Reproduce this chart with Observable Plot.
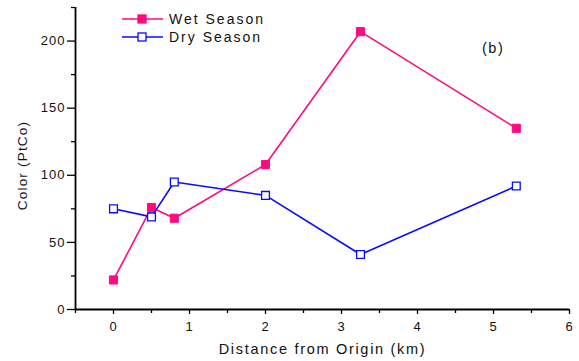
<!DOCTYPE html>
<html>
<head>
<meta charset="utf-8">
<script src="https://cdn.jsdelivr.net/npm/d3@7"></script>
<script src="https://cdn.jsdelivr.net/npm/@observablehq/plot@0.6"></script>
<style>
  html, body { margin: 0; padding: 0; background: #fff; }
  #wrap { position: relative; width: 579px; height: 361px; font-family: "Liberation Sans", Arial, sans-serif; }
  #wrap svg text { letter-spacing: 1px; }
  .leg { position: absolute; left: 122px; display: flex; align-items: center; font-size: 14px; letter-spacing: 2px; color: #111; }
  .leg svg { margin-right: 5px; }
  #tag { position: absolute; left: 482px; top: 40px; font-size: 14.5px; letter-spacing: 1.5px; color: #111; }
</style>
</head>
<body>
<div id="wrap"></div>
<script>
const distance = [0, 0.5, 0.8, 2, 3.25, 5.3];
const wetSeason = [22, 76, 68, 108, 207, 135];
const drySeason = [75, 69, 95, 85, 41, 92];
const seriesNames = ["Wet Season", "Dry Season"];
const seriesColors = ["#ff0a80", "#0a0aff"];
const xMajorTicks = [0, 1, 2, 3, 4, 5, 6];
const xMinorTicks = [-0.5, 0.5, 1.5, 2.5, 3.5, 4.5, 5.5];
const yMajorTicks = [0, 50, 100, 150, 200];
const yMinorTicks = [25, 75, 125, 175, 225];
const xTitle = "Distance from Origin (km)";
const yTitle = "Color (PtCo)";

const wet = distance.map((d, i) => ({x: d, y: wetSeason[i]}));
const dry = distance.map((d, i) => ({x: d, y: drySeason[i]}));

const chart = Plot.plot({
  width: 579,
  height: 361,
  marginLeft: 75,
  marginRight: 10,
  marginTop: 7,
  marginBottom: 52,
  style: {fontFamily: "'Liberation Sans', Arial, sans-serif", color: "#111", background: "#fff"},
  x: {domain: [-0.5, 6]},
  y: {domain: [0, 225]},
  marks: [
    Plot.axisX(xMajorTicks, {tickSize: 5, tickPadding: 7, fontSize: 13, label: null, stroke: "#000", strokeWidth: 1.3}),
    Plot.axisX(xMinorTicks, {tickSize: 4, tickFormat: () => "", label: null, stroke: "#000", strokeWidth: 1.3}),
    Plot.axisY(yMajorTicks, {tickSize: 8, tickPadding: 2, fontSize: 13, label: null, stroke: "#000", strokeWidth: 1.3}),
    Plot.axisY(yMinorTicks, {tickSize: 4, tickFormat: () => "", label: null, stroke: "#000", strokeWidth: 1.3}),
    Plot.ruleX([-0.5], {stroke: "#000", strokeWidth: 1.8}),
    Plot.ruleY([0], {stroke: "#000", strokeWidth: 1.8}),
    Plot.text([xTitle], {frameAnchor: "bottom", textAnchor: "middle", dy: 44, fontSize: 14.5, fill: "#111"}),
    Plot.text([yTitle], {frameAnchor: "left", textAnchor: "middle", dx: -53, dy: 7, rotate: -90, fontSize: 13.5, fill: "#111"}),
    Plot.line(wet, {x: "x", y: "y", stroke: seriesColors[0], strokeWidth: 1.6}),
    Plot.dot(wet, {x: "x", y: "y", symbol: "square", r: 4.6, fill: seriesColors[0], stroke: seriesColors[0], strokeWidth: 1}),
    Plot.line(dry, {x: "x", y: "y", stroke: seriesColors[1], strokeWidth: 1.6}),
    Plot.dot(dry, {x: "x", y: "y", symbol: "square", r: 4.4, fill: "#fff", stroke: seriesColors[1], strokeWidth: 1.3})
  ]
});
const wrap = document.getElementById("wrap");
wrap.appendChild(chart);

d3.select(chart).selectAll("text").each(function() {
  const t = this.textContent;
  if (t === xTitle) this.style.letterSpacing = "1.7px";
  if (t === yTitle) this.style.letterSpacing = "1.2px";
});

seriesNames.forEach((name, i) => {
  const div = document.createElement("div");
  div.className = "leg";
  div.style.top = (i === 0 ? 10 : 28) + "px";
  const filled = i === 0;
  div.innerHTML = `<svg width="42" height="18"><line x1="0" x2="41" y1="9" y2="9" stroke="${seriesColors[i]}" stroke-width="1.6"/>` +
    `<rect x="16" y="5" width="8" height="8" fill="${filled ? seriesColors[i] : '#fff'}" stroke="${seriesColors[i]}" stroke-width="1.3"/></svg><span>${name}</span>`;
  wrap.appendChild(div);
});
const tag = document.createElement("div");
tag.id = "tag";
tag.textContent = "(b)";
wrap.appendChild(tag);
</script>
</body>
</html>
